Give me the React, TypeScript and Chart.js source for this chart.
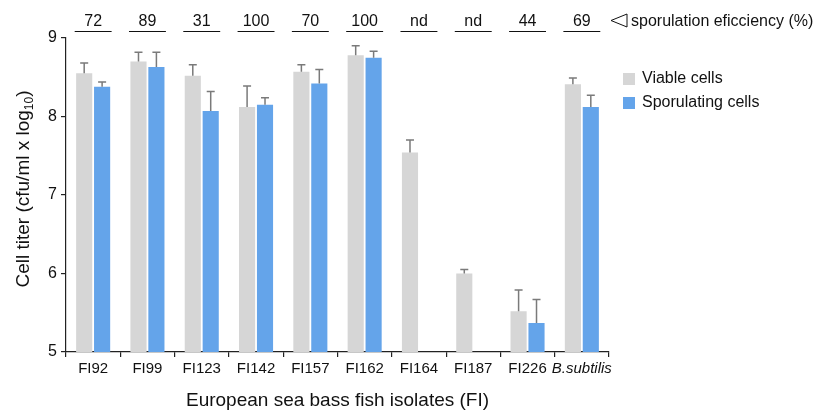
import React, { useEffect, useRef } from "react";
import { Chart, registerables } from "chart.js";

Chart.register(...registerables);

const categories = ["FI92", "FI99", "FI123", "FI142", "FI157", "FI162", "FI164", "FI187", "FI226", "B.subtilis"];
const viable = [8.55, 8.7, 8.52, 8.12, 8.57, 8.78, 7.54, 6.0, 5.52, 8.41];
const viableErr = [0.13, 0.12, 0.14, 0.27, 0.09, 0.12, 0.16, 0.05, 0.27, 0.08];
const sporulating: (number | null)[] = [8.38, 8.63, 8.07, 8.15, 8.42, 8.75, null, null, 5.37, 8.12];
const sporulatingErr: (number | null)[] = [0.06, 0.19, 0.25, 0.09, 0.18, 0.08, null, null, 0.3, 0.15];
const efficiency = ["72", "89", "31", "100", "70", "100", "nd", "nd", "44", "69"];
const yTicks = [5, 6, 7, 8, 9];

const GRAY = "#d6d6d6";
const BLUE = "#64a4ea";
const FONT = "Liberation Sans, Arial, sans-serif";

const extrasPlugin = {
  id: "extras",
  afterDatasetsDraw(chart: any) {
    const ctx = chart.ctx;
    const y = chart.scales.y;
    const x = chart.scales.x;
    const errs = [viableErr, sporulatingErr];
    ctx.save();
    // error bars
    ctx.strokeStyle = "#7a7a7a";
    ctx.lineWidth = 1.5;
    chart.data.datasets.forEach((ds: any, di: number) => {
      const meta = chart.getDatasetMeta(di);
      meta.data.forEach((bar: any, i: number) => {
        const v = ds.data[i];
        const e = errs[di][i];
        if (v == null || e == null) return;
        const top = y.getPixelForValue(v + e);
        const base = y.getPixelForValue(v);
        ctx.beginPath();
        ctx.moveTo(bar.x, base);
        ctx.lineTo(bar.x, top);
        ctx.moveTo(bar.x - 4, top);
        ctx.lineTo(bar.x + 4, top);
        ctx.stroke();
      });
    });
    // efficiency labels
    ctx.fillStyle = "#111";
    ctx.strokeStyle = "#111";
    ctx.lineWidth = 1;
    ctx.font = `16px ${FONT}`;
    ctx.textAlign = "center";
    ctx.textBaseline = "alphabetic";
    const half = (x.getPixelForValue(1) - x.getPixelForValue(0)) * 0.34;
    efficiency.forEach((t, i) => {
      const cx = x.getPixelForValue(i);
      ctx.fillText(t, cx, 26);
      ctx.beginPath();
      ctx.moveTo(cx - half, 31.5);
      ctx.lineTo(cx + half, 31.5);
      ctx.stroke();
    });
    // triangle + label
    ctx.beginPath();
    ctx.moveTo(611, 20.5);
    ctx.lineTo(627, 14);
    ctx.lineTo(627, 27);
    ctx.closePath();
    ctx.stroke();
    ctx.textAlign = "left";
    ctx.fillText("sporulation eficciency (%)", 631, 26);
    // legend
    ctx.font = `16px ${FONT}`;
    ctx.textBaseline = "middle";
    ctx.fillStyle = GRAY;
    ctx.fillRect(623, 73, 12, 12);
    ctx.fillStyle = BLUE;
    ctx.fillRect(623, 97, 12, 12);
    ctx.fillStyle = "#111";
    ctx.fillText("Viable cells", 642, 79);
    ctx.fillText("Sporulating cells", 642, 103);
    // x title
    ctx.textAlign = "center";
    ctx.textBaseline = "alphabetic";
    ctx.font = `19px ${FONT}`;
    ctx.fillText("European sea bass fish isolates (FI)", (x.left + x.right) / 2, 406);
    // y title with subscript
    ctx.save();
    ctx.translate(29, (y.top + y.bottom) / 2 - 6);
    ctx.rotate(-Math.PI / 2);
    const main = "Cell titer (cfu/ml x log";
    const sub = "10";
    const end = ")";
    ctx.font = `19px ${FONT}`;
    const w1 = ctx.measureText(main).width;
    const w3 = ctx.measureText(end).width;
    ctx.font = `12px ${FONT}`;
    const w2 = ctx.measureText(sub).width;
    const total = w1 + w2 + w3;
    let px = -total / 2;
    ctx.textAlign = "left";
    ctx.font = `19px ${FONT}`;
    ctx.fillText(main, px, 0);
    px += w1;
    ctx.font = `12px ${FONT}`;
    ctx.fillText(sub, px, 4);
    px += w2;
    ctx.font = `19px ${FONT}`;
    ctx.fillText(end, px, 0);
    ctx.restore();
    ctx.restore();
  },
};

export default function App() {
  const ref = useRef<HTMLCanvasElement>(null);
  useEffect(() => {
    document.body.style.margin = "0";
    const chart = new Chart(ref.current!, {
      type: "bar",
      data: {
        labels: categories,
        datasets: [
          { label: "Viable cells", data: viable, backgroundColor: GRAY, barPercentage: 0.9, categoryPercentage: 0.66 },
          { label: "Sporulating cells", data: sporulating, backgroundColor: BLUE, barPercentage: 0.9, categoryPercentage: 0.66 },
        ],
      },
      options: {
        animation: false,
        responsive: false,
        layout: { padding: { left: 0, top: 38, right: 207, bottom: 0 } },
        plugins: { legend: { display: false }, tooltip: { enabled: false } },
        scales: {
          x: {
            grid: { display: true, drawOnChartArea: false, drawTicks: true, tickLength: 5, color: "#222", lineWidth: 1.2, offset: true },
            border: { color: "#222", width: 1.2 },
            ticks: {
              color: "#111",
              padding: 3,
              maxRotation: 0,
              minRotation: 0,
              autoSkip: false,
              font: (c: any) => ({ family: FONT, size: 15, style: c.index === 9 ? "italic" : "normal" }),
            },
            afterFit(s: any) { s.height = 60; },
          },
          y: {
            min: 5,
            max: 9,
            afterBuildTicks(s: any) { s.ticks = yTicks.map((v) => ({ value: v })); },
            grid: { display: true, drawOnChartArea: false, drawTicks: true, tickLength: 5, color: "#222", lineWidth: 1.2 },
            border: { color: "#222", width: 1.2 },
            ticks: { color: "#111", padding: 4, font: { family: FONT, size: 16 } },
            afterFit(s: any) { s.width = 66; },
          },
        },
      },
      plugins: [extrasPlugin],
    });
    return () => chart.destroy();
  }, []);
  return (
    <div style={{ position: "absolute", left: 0, top: 0, width: 816, height: 412 }}>
      <canvas ref={ref} width={816} height={412} />
    </div>
  );
}
